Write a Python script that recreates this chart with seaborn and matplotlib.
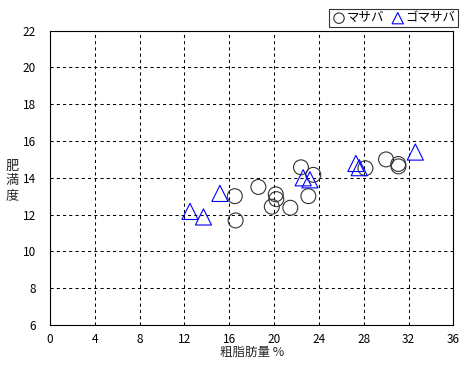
import matplotlib
matplotlib.use("Agg")
import matplotlib.pyplot as plt
import seaborn as sns
import pandas as pd

masaba_x = [22.4, 23.5, 16.5, 18.6, 20.15, 20.2, 19.8, 21.45, 23.06, 16.57, 28.15, 29.99, 31.08, 31.1]
masaba_y = [14.57, 14.16, 13.0, 13.5, 13.1, 12.84, 12.43, 12.37, 13.0, 11.68, 14.52, 15.0, 14.75, 14.62]
goma_x = [12.5, 13.7, 15.17, 22.6, 23.2, 27.3, 27.6, 32.6]
goma_y = [12.17, 11.87, 13.15, 14.0, 13.89, 14.78, 14.55, 15.4]
series_names = ["マサバ", "ゴマサバ"]
x_ticks = list(range(0, 37, 4))
y_ticks = list(range(6, 23, 2))
x_label = "粗脂肪量 %"
y_label = "肥\n満\n度"

sns.set_style("white")
plt.rcParams['font.family'] = ['Noto Sans CJK JP', 'DejaVu Sans']

df = pd.DataFrame({
    "x": masaba_x + goma_x,
    "y": masaba_y + goma_y,
    "種": [series_names[0]] * len(masaba_x) + [series_names[1]] * len(goma_x),
})

fig = plt.figure(figsize=(4.66, 3.70), dpi=100)
ax = fig.add_axes([0.107, 0.122, 0.866, 0.795])

m = df[df["種"] == series_names[0]]
g = df[df["種"] == series_names[1]]
sns.scatterplot(data=m, x="x", y="y", ax=ax, marker="o", s=115,
                facecolors="none", edgecolor="#333333", linewidth=0.8,
                label=series_names[0], zorder=3)
sns.scatterplot(data=g, x="x", y="y", ax=ax, marker="^", s=135,
                facecolors="none", edgecolor="#0000ff", linewidth=0.8,
                label=series_names[1], zorder=4)

ax.set_xlim(0, 36)
ax.set_ylim(6, 22)
ax.set_xticks(x_ticks)
ax.set_yticks(y_ticks)
ax.tick_params(axis="both", length=0, labelsize=8.5, colors="black")
ax.tick_params(axis="y", pad=10)
ax.tick_params(axis="x", pad=6)
ax.grid(True, color="black", linestyle=(0, (3, 3)), linewidth=0.75)
for sp in ax.spines.values():
    sp.set_color("black")
    sp.set_linewidth(0.8)

ax.set_xlabel(x_label, fontsize=9, labelpad=0)
ax.set_ylabel(y_label, fontsize=9.5, rotation=0, va="center", ha="center",
              linespacing=1.15)
ax.yaxis.set_label_coords(-0.094, 0.49)

leg = ax.legend(loc="lower right", bbox_to_anchor=(1.02, 1.0), ncol=2,
                frameon=True, fancybox=False, fontsize=9, borderpad=0.2,
                handletextpad=0.0, columnspacing=0.5, handlelength=1.2,
                markerscale=0.7, borderaxespad=0.3)
leg.get_frame().set_edgecolor("black")
leg.get_frame().set_linewidth(0.8)
for t in leg.get_texts():
    t.set_color("black")

fig.savefig("out.png", dpi=100)
